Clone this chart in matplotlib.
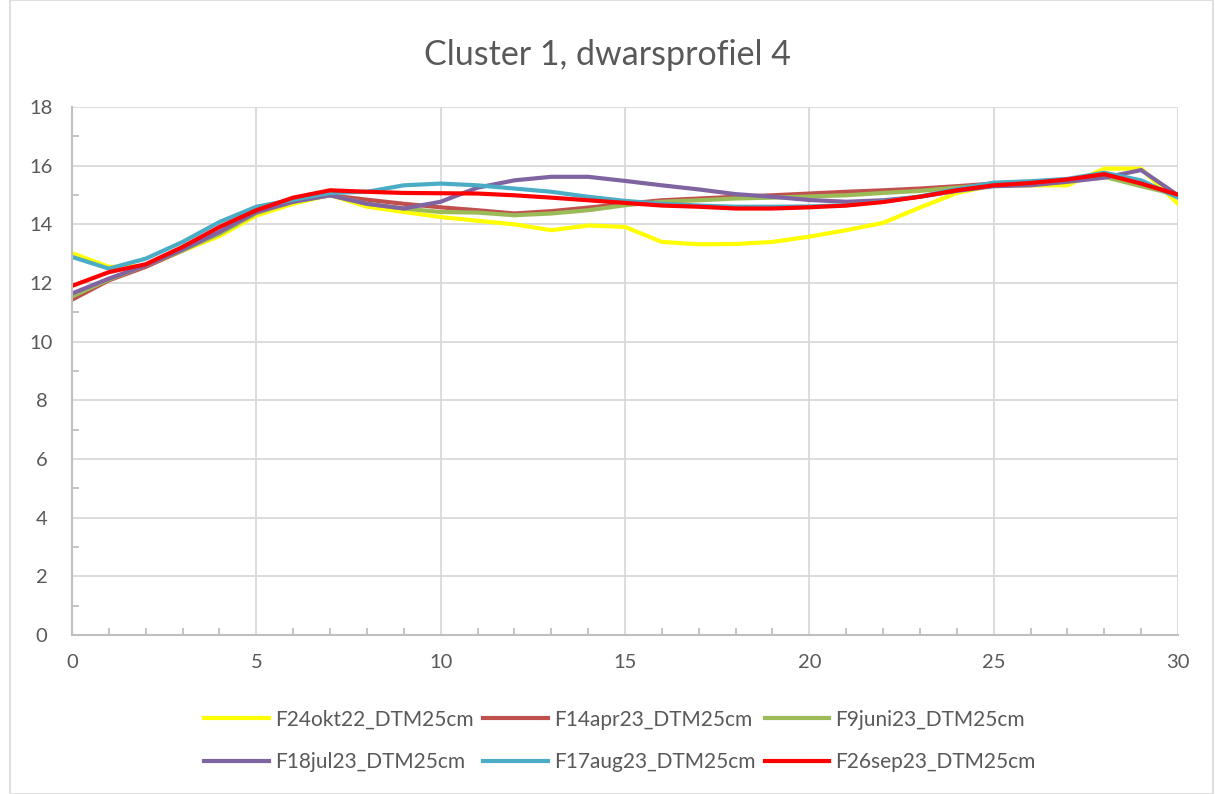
import matplotlib
matplotlib.use("Agg")
import matplotlib.pyplot as plt
from matplotlib.ticker import MultipleLocator
from matplotlib.patches import Rectangle

plt.rcParams['font.family'] = ['Lato', 'DejaVu Sans']

# Distance along the cross-section (m)
distance = list(range(0, 31))

series_names = [
    "F24okt22_DTM25cm",
    "F14apr23_DTM25cm",
    "F9juni23_DTM25cm",
    "F18jul23_DTM25cm",
    "F17aug23_DTM25cm",
    "F26sep23_DTM25cm",
]

okt22 = [13.02, 12.55, 12.57, 13.10, 13.60, 14.30, 14.70, 15.00, 14.60, 14.42,
         14.25, 14.12, 14.00, 13.80, 13.96, 13.91, 13.40, 13.32, 13.33, 13.40,
         13.58, 13.80, 14.05, 14.57, 15.07, 15.33, 15.33, 15.33, 15.90, 15.90,
         14.70]
apr23 = [11.43, 12.09, 12.55, 13.11, 13.74, 14.42, 14.82, 14.99, 14.84, 14.70,
         14.58, 14.48, 14.37, 14.45, 14.57, 14.70, 14.82, 14.88, 14.94, 14.99,
         15.05, 15.11, 15.16, 15.22, 15.30, 15.39, 15.42, 15.52, 15.64, 15.40,
         15.00]
juni23 = [11.54, 12.12, 12.60, 13.11, 13.68, 14.38, 14.77, 14.99, 14.70, 14.54,
          14.42, 14.40, 14.31, 14.37, 14.48, 14.65, 14.77, 14.82, 14.88, 14.91,
          14.95, 14.99, 15.07, 15.14, 15.25, 15.36, 15.42, 15.50, 15.62, 15.30,
          15.00]
jul23 = [11.64, 12.15, 12.60, 13.14, 13.74, 14.42, 14.77, 14.99, 14.70, 14.54,
         14.77, 15.25, 15.50, 15.62, 15.62, 15.48, 15.33, 15.19, 15.03, 14.94,
         14.83, 14.77, 14.82, 14.94, 15.14, 15.30, 15.33, 15.45, 15.59, 15.85,
         14.99]
aug23 = [12.89, 12.49, 12.83, 13.40, 14.08, 14.60, 14.84, 15.07, 15.11, 15.33,
         15.39, 15.33, 15.22, 15.11, 14.94, 14.80, 14.70, 14.64, 14.60, 14.60,
         14.61, 14.65, 14.78, 14.95, 15.20, 15.42, 15.47, 15.55, 15.76, 15.50,
         14.91]
sep23 = [11.90, 12.37, 12.64, 13.23, 13.91, 14.48, 14.91, 15.16, 15.11, 15.07,
         15.06, 15.05, 14.99, 14.91, 14.82, 14.73, 14.64, 14.60, 14.54, 14.54,
         14.58, 14.64, 14.76, 14.94, 15.16, 15.33, 15.41, 15.53, 15.71, 15.39,
         15.01]

series_values = [okt22, apr23, juni23, jul23, aug23, sep23]
series_colors = ["#FFFF00", "#C0504D", "#9BBB59", "#8064A2", "#4BACC6", "#FF0000"]

x_ticks = [0, 5, 10, 15, 20, 25, 30]
y_ticks = [0, 2, 4, 6, 8, 10, 12, 14, 16, 18]

W, H = 1215, 794
fig = plt.figure(figsize=(W / 100, H / 100), dpi=100)
ax = fig.add_axes([72 / W, (H - 635) / H, (1178 - 72) / W, (635 - 107) / H])

for name, vals, col in zip(series_names, series_values, series_colors):
    ax.plot(distance, vals, color=col, lw=3.0, label=name, solid_joinstyle='round')

ax.set_xlim(0, 30)
ax.set_ylim(0, 18)
ax.set_xticks(x_ticks)
ax.set_yticks(y_ticks)
ax.xaxis.set_minor_locator(MultipleLocator(1))
ax.yaxis.set_minor_locator(MultipleLocator(1))

grid_col = "#D9D9D9"
spine_col = "#BFBFBF"
ax.grid(True, which='major', color=grid_col, lw=1.3)
ax.set_axisbelow(True)
for side in ("top", "right"):
    ax.spines[side].set_visible(False)
for side in ("left", "bottom"):
    ax.spines[side].set_color(spine_col)
    ax.spines[side].set_linewidth(1.5)

ax.tick_params(axis='both', which='both', direction='in', color=spine_col, width=1.3,
               labelcolor="#595959", labelsize=14.5)
ax.tick_params(axis='both', which='major', length=0)
ax.tick_params(axis='both', which='minor', length=5)
ax.tick_params(axis='x', pad=14)
ax.tick_params(axis='y', pad=22)
for lbl in ax.get_yticklabels():
    lbl.set_horizontalalignment('center')

fig.text(0.5, (H - 55) / H, "Cluster 1, dwarsprofiel 4", ha='center', va='center',
         fontsize=24.5, color="#595959")

# legend filled row by row (3 columns, 2 rows)
handles, labels = ax.get_legend_handles_labels()
order = [0, 3, 1, 4, 2, 5]
leg = fig.legend([handles[i] for i in order], [labels[i] for i in order],
                 loc='center', bbox_to_anchor=(620 / W, (H - 741) / H),
                 ncol=3, frameon=False, fontsize=15, handlelength=3.1,
                 columnspacing=0.45, handletextpad=0.3, labelspacing=1.1,
                 labelcolor="#595959")

fig.patches.append(Rectangle((10 / W, 0), (W - 12) / W, 1.0, transform=fig.transFigure,
                             fill=False, edgecolor="#D9D9D9", lw=1.2))

fig.savefig("out.png", dpi=100, facecolor="white")
